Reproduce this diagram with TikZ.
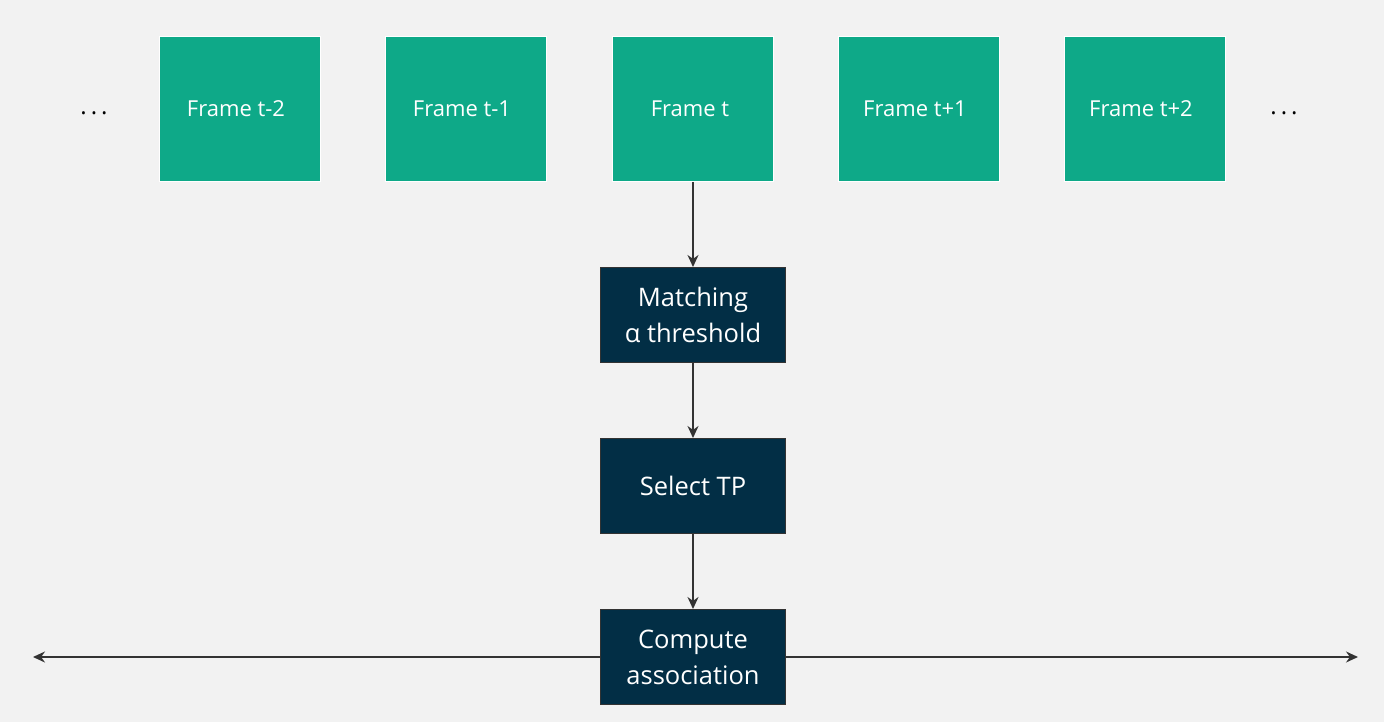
\documentclass[tikz,border=0pt]{standalone}
\usepackage{fontspec}
\setmainfont{Open Sans}
\usetikzlibrary{arrows.meta}
\definecolor{bg}{HTML}{F2F2F2}
\definecolor{frameg}{HTML}{0EA988}
\definecolor{navy}{HTML}{022E45}
\definecolor{linec}{HTML}{333333}
\tikzset{
  framebox/.style={fill=frameg, draw=white, line width=0.6pt, minimum width=161pt, minimum height=145pt, inner sep=0pt, text=white, font=\fontsize{22}{26}\selectfont},
  procbox/.style={fill=navy, draw=linec, line width=1pt, minimum width=185pt, minimum height=95pt, inner sep=0pt, text=white, align=center, font=\fontsize{25.5}{36}\selectfont},
  conn/.style={draw=linec, line width=1.5pt, -{Stealth[length=12pt,width=11pt]}},
  dots/.style={text=black, font=\fontsize{24}{28}\selectfont}
}
\begin{document}
\begin{tikzpicture}[x=1pt,y=-1pt]
\fill[bg] (0,0) rectangle (1384,722);
\useasboundingbox (0,0) rectangle (1384,722);
\node[dots] (dl) at (94,113) {.\,.\,.};
\node[dots] (dr) at (1284,113) {.\,.\,.};
\node[framebox] (f1) at (240,109) {\hspace*{-8pt}Frame t-2};
\node[framebox] (f2) at (466,109) {\hspace*{-8pt}Frame t-1};
\node[framebox] (f3) at (693,109) {\hspace*{-6pt}Frame t};
\node[framebox] (f4) at (919,109) {\hspace*{-8pt}Frame t+1};
\node[framebox] (f5) at (1145,109) {\hspace*{-8pt}Frame t+2};
\coordinate (la) at (33,657);
\coordinate (ra) at (1358,657);
\draw[conn, {Stealth[length=12pt,width=11pt]}-{Stealth[length=12pt,width=11pt]}] (la) -- (ra);
\node[procbox] (m) at (693,315) {Matching\\α threshold};
\node[procbox] (s) at (693,486) {Select TP};
\node[procbox] (c) at (693,657) {Compute\\association};
\draw[conn] (f3) -- (m);
\draw[conn] (m) -- (s);
\draw[conn] (s) -- (c);
\end{tikzpicture}
\end{document}
